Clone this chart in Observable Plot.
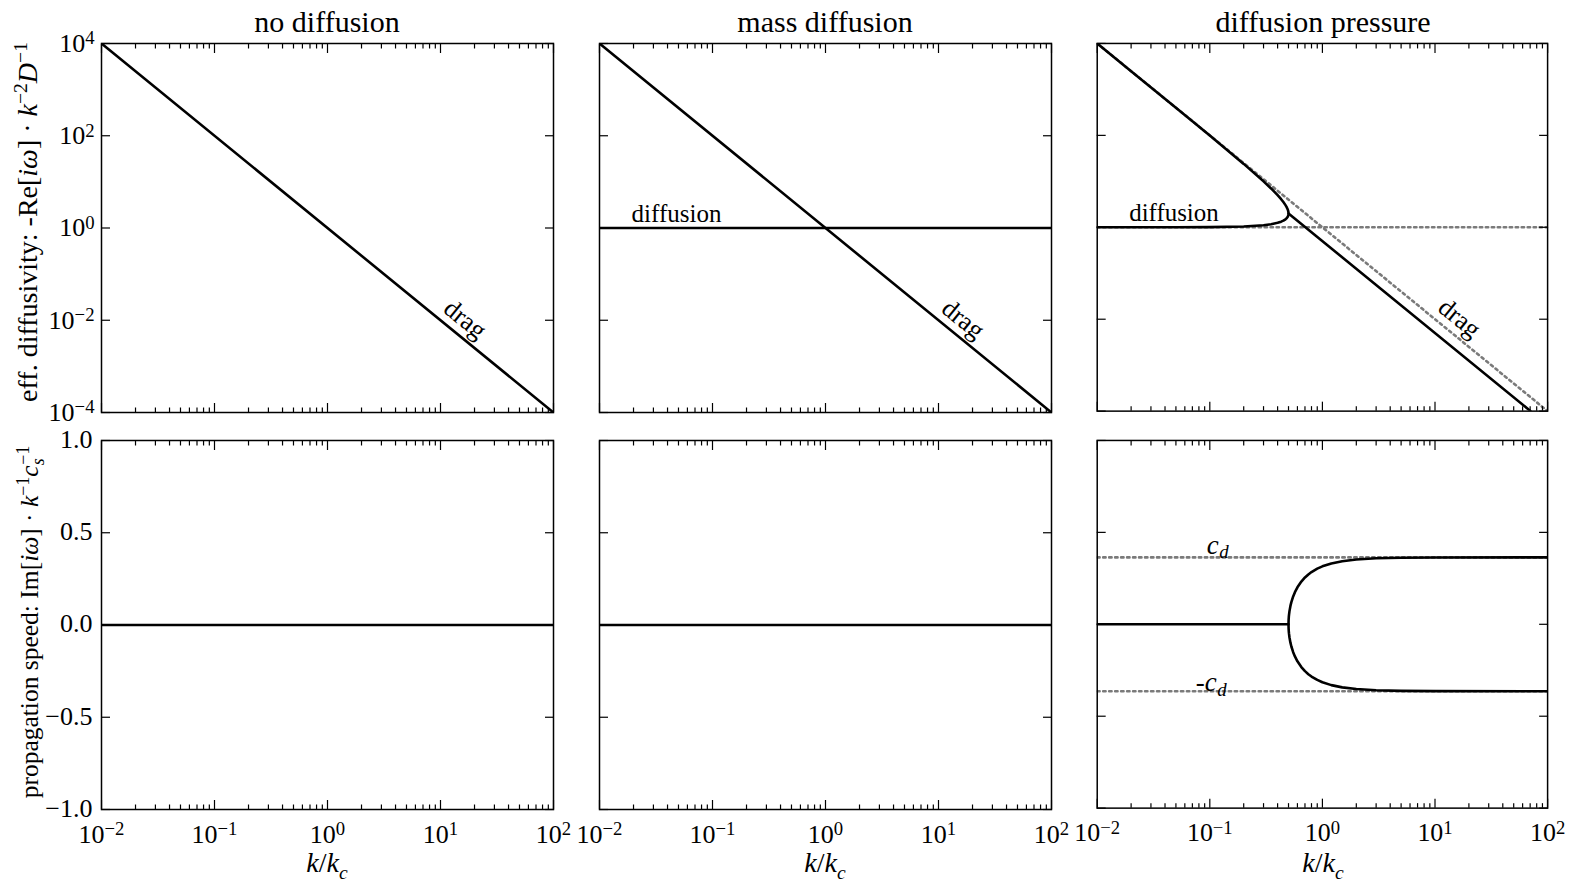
<!DOCTYPE html>
<html><head><meta charset="utf-8">
<script src="https://cdn.jsdelivr.net/npm/d3@7"></script>
<script src="https://cdn.jsdelivr.net/npm/@observablehq/plot@0.6"></script>
<style>
body{margin:0;background:#fff;}
#chart{position:relative;width:1577px;height:889px;font-family:"Liberation Serif",serif;color:#000;overflow:hidden;background:#fff}
.panel{position:absolute}
.title{position:absolute;font-size:30px;transform:translate(-50%,-50%);white-space:nowrap;line-height:1}
.xlab{position:absolute;font-size:28px;transform:translate(-50%,-50%);white-space:nowrap;line-height:1}
.ylab{position:absolute;transform:translate(-50%,-50%) rotate(-90deg);white-space:nowrap;line-height:1}
sup,sub{font-size:0.7em;line-height:0}
</style>
</head><body>
<div id="chart"></div>
<script>
// ---------------- data ----------------
const titles = ["no diffusion", "mass diffusion", "diffusion pressure"];
const xMajorTicks = [0.01, 0.1, 1, 10, 100];
const xMinorTicks = [0.02,0.03,0.04,0.05,0.06,0.07,0.08,0.09,
                     0.2,0.3,0.4,0.5,0.6,0.7,0.8,0.9,
                     2,3,4,5,6,7,8,9,
                     20,30,40,50,60,70,80,90];
const yLogTicks = [1e-4, 1e-2, 1, 1e2, 1e4];
const yLinTicks = [-1, -0.5, 0, 0.5, 1];

// drag (k^-2) and diffusion (flat) branches
const dragK = [0.01, 100];
const dragV = [1e4, 1e-4];
const diffK = [0.01, 100];
const diffV = [1, 1];

// diffusion pressure: real part, upper (drag-like) branch continuing past the split
const pressUpperK = [0.01, 0.02, 0.05, 0.1, 0.2, 0.3, 0.35, 0.4, 0.43, 0.45, 0.47, 0.48, 0.49, 0.495, 0.498, 0.499, 0.4999, 0.5, 70.7];
const pressUpperV = [9999, 2499, 399, 99, 23.96, 10.0, 7.0, 5.0, 4.084, 3.545, 3.036, 2.778, 2.497, 2.329, 2.196, 2.135, 2.041, 2.0, 1e-4];
// diffusion pressure: real part, lower (diffusion-like) branch
const pressLowerK = [0.01, 0.05, 0.1, 0.2, 0.3, 0.35, 0.4, 0.43, 0.45, 0.47, 0.48, 0.49, 0.495, 0.498, 0.499, 0.4999, 0.5];
const pressLowerV = [1.0, 1.0025, 1.0102, 1.0436, 1.111, 1.167, 1.25, 1.324, 1.393, 1.491, 1.5625, 1.668, 1.753, 1.836, 1.881, 1.961, 2.0];

// propagation speed
const zeroK = [0.01, 100];
const zeroV = [0, 0];
const imagUpperK = [0.01, 0.5, 0.501, 0.503, 0.505, 0.51, 0.52, 0.53, 0.55, 0.57, 0.6, 0.65, 0.7, 0.75, 0.8, 0.9, 1, 1.2, 1.5, 2, 3, 5, 10, 100];
const imagUpperV = [0, 0, 0.0230, 0.0397, 0.0511, 0.0717, 0.1000, 0.1207, 0.1516, 0.1748, 0.2012, 0.2326, 0.2548, 0.2713, 0.2841, 0.3027, 0.3152, 0.3309, 0.3432, 0.3524, 0.3589, 0.3622, 0.3635, 0.364];
const imagLowerK = [0.5, 0.501, 0.503, 0.505, 0.51, 0.52, 0.53, 0.55, 0.57, 0.6, 0.65, 0.7, 0.75, 0.8, 0.9, 1, 1.2, 1.5, 2, 3, 5, 10, 100];
const imagLowerV = [0, -0.0230, -0.0397, -0.0511, -0.0717, -0.1000, -0.1207, -0.1516, -0.1748, -0.2012, -0.2326, -0.2548, -0.2713, -0.2841, -0.3027, -0.3152, -0.3309, -0.3432, -0.3524, -0.3589, -0.3622, -0.3635, -0.364];
const cdK = [0.01, 100];
const cdV = [0.364, 0.364];
const negCdV = [-0.364, -0.364];

// annotations
const dragLabelK = [16.5], dragLabelV = [0.0105], dragLabelText = ["drag"];
const diffLabelK = [0.048], diffLabelV = [2.06], diffLabelText = ["diffusion"];
const cdLabelK = [0.12, 0.115], cdLabelV = [0.431, -0.317], cdLabelText = ["c", "-c"], cdSubText = ["d", "d"];

// ---------------- layout ----------------
const colLeft = [101, 599, 1097], panelW = 452;
const rowTop = [43, 440], panelH = 369;
const M = {l: 80, r: 30, t: 12, b: 50};

const rows = (k, v, t) => k.map((x, i) => ({k: x, v: v[i], t: t ? t[i] : null}));
const fmtLog = d => "10^" + String(Math.round(Math.log10(d))).replace("-", "\u2212");
const fmtLin = d => (d < 0 ? "\u2212" : "") + Math.abs(d).toFixed(1);

const SOLID = {x: "k", y: "v", stroke: "black", strokeWidth: 2.6};
const DOTTED = {x: "k", y: "v", stroke: "#7a7a7a", strokeWidth: 2.6, strokeDasharray: "2.4,3.6"};

function panel(row, col) {
  const marks = [];
  const yTicks = row === 0 ? yLogTicks : yLinTicks;
  if (row === 0) {
    if (col === 2) {
      marks.push(Plot.line(rows(dragK, dragV), DOTTED));
      marks.push(Plot.line(rows(diffK, diffV), DOTTED));
      marks.push(Plot.line(rows(pressUpperK, pressUpperV), SOLID));
      marks.push(Plot.line(rows(pressLowerK, pressLowerV), SOLID));
    } else {
      marks.push(Plot.line(rows(dragK, dragV), SOLID));
      if (col === 1) marks.push(Plot.line(rows(diffK, diffV), SOLID));
    }
    marks.push(Plot.text(rows(dragLabelK, dragLabelV, dragLabelText), {x: "k", y: "v", text: "t", rotate: 39, fontSize: 26}));
    if (col > 0) marks.push(Plot.text(rows(diffLabelK, diffLabelV, diffLabelText), {x: "k", y: "v", text: "t", fontSize: 25}));
  } else {
    if (col === 2) {
      marks.push(Plot.line(rows(cdK, cdV), DOTTED));
      marks.push(Plot.line(rows(cdK, negCdV), DOTTED));
      marks.push(Plot.line(rows(imagUpperK, imagUpperV), SOLID));
      marks.push(Plot.line(rows(imagLowerK, imagLowerV), SOLID));
      marks.push(Plot.text(rows(cdLabelK, cdLabelV, cdLabelText), {x: "k", y: "v", text: "t", textAnchor: "end", fontStyle: "italic", fontSize: 27}));
      marks.push(Plot.text(rows(cdLabelK, cdLabelV, cdSubText), {x: "k", y: "v", text: "t", textAnchor: "start", fontStyle: "italic", fontSize: 19, dx: 0.5, dy: 7}));
    } else {
      marks.push(Plot.line(rows(zeroK, zeroV), SOLID));
    }
  }
  // ticks (inward, all four sides)
  const T = {label: null, tickFormat: () => "", strokeWidth: 1.2};
  marks.push(
    Plot.axisX({...T, anchor: "bottom", ticks: xMajorTicks, tickSize: -9}),
    Plot.axisX({...T, anchor: "bottom", ticks: xMinorTicks, tickSize: -4.5}),
    Plot.axisX({...T, anchor: "top", ticks: xMajorTicks, tickSize: -9}),
    Plot.axisX({...T, anchor: "top", ticks: xMinorTicks, tickSize: -4.5}),
    Plot.axisY({...T, anchor: "left", ticks: yTicks, tickSize: -9}),
    Plot.axisY({...T, anchor: "right", ticks: yTicks, tickSize: -9})
  );
  if (row === 1) marks.push(Plot.axisX({anchor: "bottom", ticks: xMajorTicks, tickSize: 0, tickPadding: 15, tickFormat: fmtLog, label: null, fontSize: 26}));
  if (col === 0) marks.push(Plot.axisY({anchor: "left", ticks: yTicks, tickSize: 0, tickPadding: row === 0 ? 7 : 9, tickFormat: row === 0 ? fmtLog : fmtLin, label: null, fontSize: 26, dy: row === 0 ? 0 : -1}));
  marks.push(Plot.frame({stroke: "black", strokeWidth: 1.5}));

  const svg = Plot.plot({
    width: panelW + M.l + M.r,
    height: panelH + M.t + M.b,
    marginLeft: M.l, marginRight: M.r, marginTop: M.t, marginBottom: M.b,
    x: {type: "log", domain: [0.01, 100]},
    y: row === 0 ? {type: "log", domain: [1e-4, 1e4]} : {type: "linear", domain: [-1, 1]},
    clip: true,
    style: {background: "transparent", overflow: "visible", fontFamily: "'Liberation Serif', serif", fontSize: "26px", color: "black"},
    marks
  });
  // render 10^n tick labels with a real superscript
  svg.querySelectorAll("text").forEach(t => {
    const m = /^10\^(.+)$/.exec(t.textContent);
    if (m) {
      t.textContent = "10";
      const ts = document.createElementNS("http://www.w3.org/2000/svg", "tspan");
      ts.setAttribute("dy", "-0.4em");
      ts.setAttribute("font-size", "0.72em");
      ts.textContent = m[1];
      t.appendChild(ts);
    }
  });
  const div = document.createElement("div");
  div.className = "panel";
  div.style.left = (colLeft[col] - M.l) + "px";
  div.style.top = (rowTop[row] - M.t) + "px";
  div.appendChild(svg);
  return div;
}

const chart = document.getElementById("chart");
for (let r = 0; r < 2; r++) for (let c = 0; c < 3; c++) chart.appendChild(panel(r, c));

function addLabel(cls, x, y, html, size) {
  const d = document.createElement("div");
  d.className = cls;
  d.style.left = x + "px";
  d.style.top = y + "px";
  if (size) d.style.fontSize = size + "px";
  d.innerHTML = html;
  chart.appendChild(d);
}
titles.forEach((t, c) => addLabel("title", colLeft[c] + panelW / 2, 22, t));
titles.forEach((t, c) => addLabel("xlab", colLeft[c] + panelW / 2, 863, "<i>k</i>/<i>k</i><sub><i>c</i></sub>"));
addLabel("ylab", 28, 222, "eff. diffusivity: -Re[<i>iω</i>] · <i>k</i><sup>−2</sup><i>D</i><sup>−1</sup>", 28);
addLabel("ylab", 30, 622, "propagation speed: Im[<i>iω</i>] · <i>k</i><sup>−1</sup><i>c</i><sub><i>s</i></sub><sup style=\"margin-left:-0.35em\">−1</sup>", 25.5);
</script>
</body></html>
